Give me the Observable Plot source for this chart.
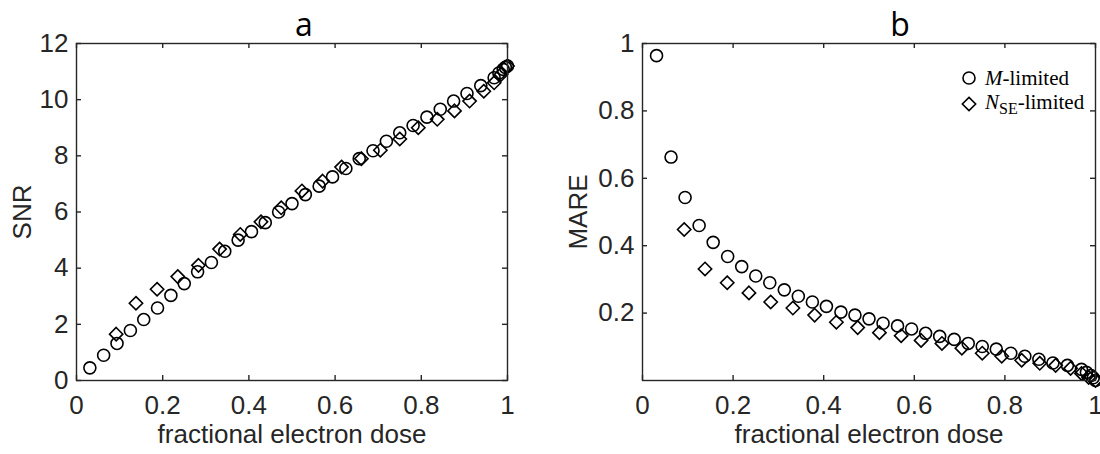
<!DOCTYPE html>
<html>
<head>
<meta charset="utf-8">
<script src="https://cdn.jsdelivr.net/npm/d3@7"></script>
<script src="https://cdn.jsdelivr.net/npm/@observablehq/plot@0.6"></script>
<style>
  html, body { margin: 0; padding: 0; background: #fff; }
  #wrap { position: relative; width: 1100px; height: 454px; overflow: hidden; }
  #wrap svg { position: absolute; top: 0; overflow: visible; }
</style>
</head>
<body>
<div id="wrap"></div>
<script>
// ---- data ----
const doseM = [0.031,0.063,0.094,0.125,0.156,0.188,0.219,0.25,0.281,0.313,0.344,0.375,0.406,0.438,0.469,0.5,0.531,0.563,0.594,0.625,0.656,0.688,0.719,0.75,0.781,0.813,0.844,0.875,0.906,0.938,0.969,0.98,0.99,0.995,1.0];
const snrM = [0.45,0.9,1.32,1.78,2.17,2.58,3.03,3.45,3.87,4.2,4.6,5.0,5.3,5.62,6.0,6.3,6.62,6.92,7.25,7.55,7.9,8.18,8.52,8.82,9.08,9.38,9.66,9.95,10.22,10.5,10.78,10.95,11.08,11.15,11.2];
const mareM = [0.964,0.663,0.543,0.46,0.41,0.368,0.338,0.31,0.29,0.269,0.25,0.233,0.22,0.203,0.194,0.183,0.17,0.162,0.153,0.14,0.131,0.122,0.11,0.101,0.093,0.081,0.072,0.063,0.052,0.045,0.033,0.024,0.015,0.008,0.0];

const doseN = [0.092,0.138,0.187,0.235,0.283,0.332,0.38,0.428,0.475,0.523,0.571,0.615,0.661,0.705,0.75,0.793,0.837,0.877,0.912,0.945,0.969,0.985,1.0];
const snrN = [1.65,2.75,3.25,3.7,4.1,4.68,5.2,5.65,6.15,6.75,7.1,7.6,7.9,8.2,8.6,9.0,9.3,9.6,9.95,10.3,10.6,10.9,11.2];
const mareN = [0.448,0.331,0.29,0.26,0.233,0.215,0.194,0.173,0.157,0.142,0.133,0.119,0.11,0.096,0.081,0.072,0.06,0.051,0.045,0.036,0.021,0.009,0.0];

const xTicks = [0, 0.2, 0.4, 0.6, 0.8, 1];
const yTicksA = [0, 2, 4, 6, 8, 10, 12];
const yTicksB = [0.2, 0.4, 0.6, 0.8, 1];
const xLabel = "fractional electron dose";

// ---- build ----
const INK = "#262626";
const H = 454, MT = 43, MB = 74;
const innerH = H - MT - MB;
const tickFont = "'Liberation Sans', Arial, sans-serif";

function panel({left, width, ml, mr, title, titleDx, yDomain, yTicks, yLabel, yLabelOffset, ys, yn}) {
  const innerW = width - ml - mr;
  const M = doseM.map((d, i) => ({x: d, y: ys[i]}));
  const N = doseN.map((d, i) => ({x: d, y: yn[i]}));
  const fmt = d => String(d);
  const svg = Plot.plot({
    width, height: H,
    marginLeft: ml, marginRight: mr, marginTop: MT, marginBottom: MB,
    style: {fontFamily: tickFont, color: INK, background: "transparent", overflow: "visible"},
    x: {domain: [0, 1]},
    y: {domain: yDomain},
    marks: [
      Plot.dot(M, {x: "x", y: "y", r: 6, stroke: "black", strokeWidth: 1.6, symbol: "circle"}),
      Plot.dot(N, {x: "x", y: "y", r: 6, stroke: "black", strokeWidth: 1.6, symbol: "diamond2"}),
      Plot.frame({stroke: INK, strokeWidth: 1.4}),
      // inward ticks on all four sides
      Plot.tickX(xTicks, {x: d => d, insetTop: innerH - 5, stroke: INK, strokeWidth: 1.4}),
      Plot.tickX(xTicks, {x: d => d, insetBottom: innerH - 5, stroke: INK, strokeWidth: 1.4}),
      Plot.tickY(yTicks, {y: d => d, insetLeft: innerW - 5, stroke: INK, strokeWidth: 1.4}),
      Plot.tickY(yTicks, {y: d => d, insetRight: innerW - 5, stroke: INK, strokeWidth: 1.4}),
      Plot.axisX({ticks: xTicks, tickSize: 0, tickPadding: 15, tickFormat: fmt, fontSize: 26,
        label: xLabel, labelAnchor: "center", labelOffset: 62, labelArrow: "none"}),
      Plot.axisY({ticks: yTicks, tickSize: 0, tickPadding: 8, tickFormat: fmt, fontSize: 26,
        label: yLabel, labelAnchor: "center", labelOffset: yLabelOffset, labelArrow: "none"}),
      Plot.text([title], {frameAnchor: "top", dx: titleDx, dy: -30, text: d => d, fontSize: 32,
        fontFamily: "'Open Sans', sans-serif", fill: "black"})
    ]
  });
  svg.style.left = left + "px";
  document.getElementById("wrap").appendChild(svg);
  return svg;
}

panel({left: 0, width: 550, ml: 76, mr: 43, title: "a", titleDx: 12,
  yDomain: [0, 12], yTicks: yTicksA, yLabel: "SNR", yLabelOffset: 64, ys: snrM, yn: snrN});

const svgB = panel({left: 550, width: 550, ml: 92, mr: 5, title: "b", titleDx: 31,
  yDomain: [0, 1], yTicks: yTicksB, yLabel: "MARE", yLabelOffset: 74, ys: mareM, yn: mareN});

// ---- legend (panel b, top-right inside) ----
const lg = d3.select(svgB).append("g")
  .attr("font-family", "'Liberation Serif', 'DejaVu Serif', serif")
  .attr("font-size", 21).attr("fill", "black").attr("text-anchor", "start");
const lx = 419, ly1 = 78, ly2 = 104;
lg.append("circle").attr("cx", lx).attr("cy", ly1).attr("r", 6).attr("fill", "none").attr("stroke", "black").attr("stroke-width", 1.6);
lg.append("path").attr("transform", `translate(${lx},${ly2})`).attr("d", d3.symbol(d3.symbolDiamond2, Math.PI * 36)()).attr("fill", "none").attr("stroke", "black").attr("stroke-width", 1.6);
const t1 = lg.append("text").attr("x", lx + 16).attr("y", ly1).attr("dy", "0.35em");
t1.append("tspan").attr("font-style", "italic").text("M");
t1.append("tspan").text("-limited");
const t2 = lg.append("text").attr("x", lx + 16).attr("y", ly2).attr("dy", "0.25em");
t2.append("tspan").attr("font-style", "italic").text("N");
t2.append("tspan").attr("font-size", 16).attr("dy", "5").text("SE");
t2.append("tspan").attr("dy", "-5").text("-limited");
</script>
</body>
</html>
